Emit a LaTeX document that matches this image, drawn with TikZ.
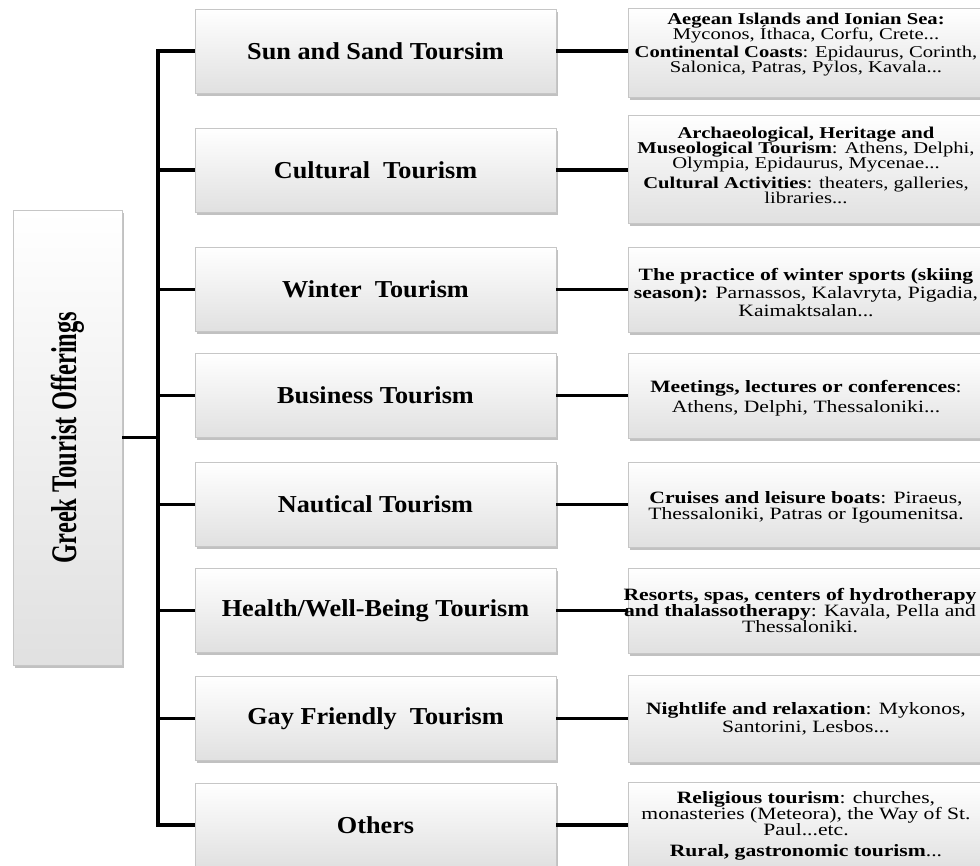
\documentclass[tikz,border=0pt]{standalone}
\usepackage{fontspec}
\setmainfont{Liberation Serif}[FakeStretch=1.25]
\newfontfamily\kindfont{Liberation Serif}[FakeStretch=1.08]
\newfontfamily\rootfont{Liberation Serif}[FakeStretch=0.68]
\newcommand\tightlines{\lineskiplimit=-20pt\relax}
\usetikzlibrary{shadows}

\tikzset{
  box/.style={draw=gray!45, line width=0.7pt, top color=white, bottom color=gray!24,
    inner sep=0pt, align=center,
    drop shadow={shadow xshift=2pt, shadow yshift=-2.5pt, opacity=0.35, fill=black!70}},
  kind/.style={box, minimum width=361pt, minimum height=84pt,
    font={\kindfont\bfseries\fontsize{24.3}{26}\selectfont}},
  place/.style={box, minimum width=356pt},
  ptext/.style={align=center, inner sep=0pt,
    font={\fontsize{17.3}{#1}\selectfont\tightlines}},
  ptextsm/.style={align=center, inner sep=0pt,
    font={\fontsize{16.5}{15}\selectfont\tightlines}},
  link/.style={line width=3.5pt},
}

\begin{document}
\begin{tikzpicture}[x=1pt, y=-1pt]
\useasboundingbox (0,0) rectangle (980,865);

% root box with rotated title
\node[box, minimum width=109pt, minimum height=455pt,
  label={[rotate=90, font={\rootfont\bfseries\fontsize{36}{40}\selectfont}]center:Greek Tourist Offerings}]
  (root) at (67.5,437.5) {};

% kinds of tourism
\node[kind] (sun)  at (375.5,51)    {Sun and Sand Toursim};
\node[kind] (cult) at (375.5,170)   {Cultural~ Tourism};
\node[kind] (wint) at (375.5,289.5) {Winter~ Tourism};
\node[kind] (busi) at (375.5,395.5) {Business Tourism};
\node[kind] (naut) at (375.5,504.5) {Nautical Tourism};
\node[kind] (heal) at (375.5,610.5) {Health/Well-Being Tourism};
\node[kind] (gay)  at (375.5,718.5) {Gay Friendly~ Tourism};
\node[kind] (oth)  at (375.5,825)   {Others};

% places
\node[place, minimum height=89pt,
  label={[ptextsm, yshift=8pt]center:{\textbf{Aegean Islands and Ionian Sea:}\\
    Myconos, Íthaca, Corfu, Crete...\\[3pt]
    \textbf{Continental Coasts}: Epidaurus, Corinth,\\
    Salonica, Patras, Pylos, Kavala...}}]
  (sunp) at (806,52.5) {};
\node[place, minimum height=108pt,
  label={[ptextsm, yshift=4pt]center:{\textbf{Archaeological, Heritage and}\\
    \textbf{Museological Tourism}: Athens, Delphi,\\
    Olympia, Epidaurus, Mycenae...\\[5pt]
    \textbf{Cultural Activities}: theaters, galleries,\\
    libraries...}}]
  (cultp) at (806,169) {};
\node[place, minimum height=85pt,
  label={[ptext=18, yshift=-3pt]center:{\textbf{The practice of winter sports (skiing}\\
    \textbf{season):} Parnassos, Kalavryta, Pigadia,\\
    Kaimaktsalan...}}]
  (wintp) at (806,289.5) {};
\node[place, minimum height=85pt,
  label={[ptext=20, yshift=-3pt]center:{\textbf{Meetings, lectures or conferences}:\\
    Athens, Delphi, Thessaloniki...}}]
  (busip) at (806,395.5) {};
\node[place, minimum height=85pt,
  label={[ptext=16, yshift=-3pt]center:{\textbf{Cruises and leisure boats}: Piraeus,\\
    Thessaloniki, Patras or Igoumenitsa.}}]
  (nautp) at (806,504.5) {};
\node[place, minimum height=85pt,
  label={[ptext=16, xshift=-6pt]center:{\textbf{Resorts, spas, centers of hydrotherapy}\\
    \textbf{and thalassotherapy}: Kavala, Pella and\\
    Thessaloniki.}}]
  (healp) at (806,610.5) {};
\node[place, minimum height=87pt,
  label={[ptext=18]center:{\textbf{Nightlife and relaxation}: Mykonos,\\
    Santorini, Lesbos...}}]
  (gayp) at (806,718.5) {};
\node[place, minimum height=88pt,
  label={[ptext=16]center:{\textbf{Religious tourism}: churches,\\
    monasteries (Meteora), the Way of St.\\
    Paul...etc.\\[5pt]
    \textbf{Rural, gastronomic tourism}...}}]
  (othp) at (806,826) {};

% tree lines
\coordinate (trunk) at (158,0);
\draw[link] (root.east) -- (root.east -| trunk);
\draw[link] (sun.west) -- (sun.west -| trunk) -- (oth.west -| trunk) -- (oth.west);
\draw[link] (cult.west -| trunk) -- (cult.west);
\draw[link] (wint.west -| trunk) -- (wint.west);
\draw[link] (busi.west -| trunk) -- (busi.west);
\draw[link] (naut.west -| trunk) -- (naut.west);
\draw[link] (heal.west -| trunk) -- (heal.west);
\draw[link] (gay.west -| trunk) -- (gay.west);

% kinds to places
\draw[link] (sun.east) -- (sun.east -| sunp.west);
\draw[link] (cult.east) -- (cult.east -| cultp.west);
\draw[link] (wint.east) -- (wint.east -| wintp.west);
\draw[link] (busi.east) -- (busi.east -| busip.west);
\draw[link] (naut.east) -- (naut.east -| nautp.west);
\draw[link] (heal.east) -- (heal.east -| healp.west);
\draw[link] (gay.east) -- (gay.east -| gayp.west);
\draw[link] (oth.east) -- (oth.east -| othp.west);
\end{tikzpicture}
\end{document}
